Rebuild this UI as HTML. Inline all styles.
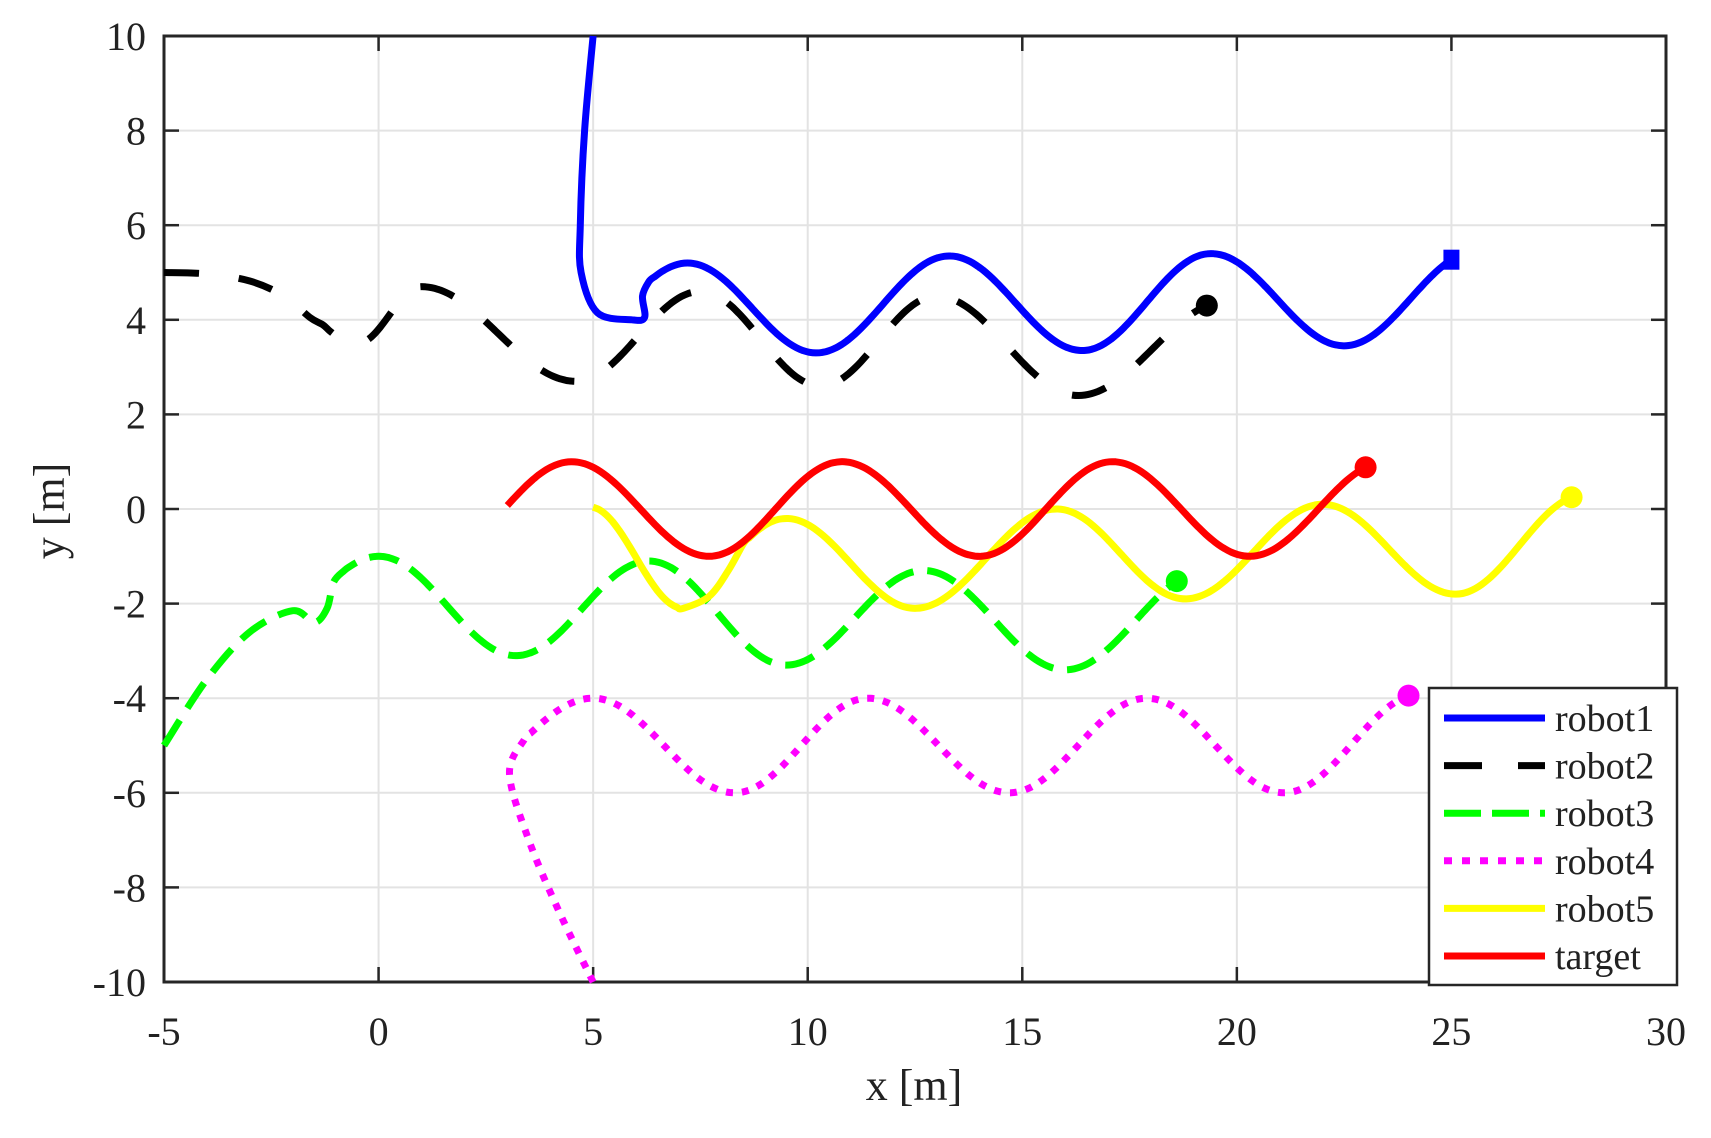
<!DOCTYPE html>
<html><head><meta charset="utf-8"><style>
html,body{margin:0;padding:0;background:#fff}
svg{display:block}
text{font-family:"Liberation Serif",serif;fill:#222}
</style></head><body>
<svg id="s" width="1711" height="1138" viewBox="0 0 1711 1138" xmlns="http://www.w3.org/2000/svg">
<rect x="164" y="36" width="1502" height="946" fill="#fff"/>
<g id="grid" stroke="#e3e3e3" stroke-width="2"></g>
<g id="ticks" stroke="#262626" stroke-width="2.5"></g>
<rect x="164" y="36" width="1502" height="946" fill="none" stroke="#262626" stroke-width="3"/>
<g id="labels" font-size="40"></g>
<g id="series" fill="none" stroke-linejoin="round"></g>
<g id="legend"></g>
<text x="914" y="1100" font-size="44" text-anchor="middle">x [m]</text>
<text transform="translate(64,511) rotate(-90)" font-size="44" text-anchor="middle">y [m]</text>
</svg>
<script>
const NS="http://www.w3.org/2000/svg";
const X=x=>164+(x+5)*1502/35, Y=y=>509-y*47.3;
function el(p,t,a,txt){const e=document.createElementNS(NS,t);for(const k in a)e.setAttribute(k,a[k]);if(txt!==undefined)e.textContent=txt;document.getElementById(p).appendChild(e);return e;}
for(let x=0;x<=25;x+=5){el('grid','line',{x1:X(x),x2:X(x),y1:36,y2:982});}
for(let y=-8;y<=8;y+=2){el('grid','line',{x1:164,x2:1666,y1:Y(y),y2:Y(y)});}
for(let x=-5;x<=30;x+=5){el('ticks','line',{x1:X(x),x2:X(x),y1:982,y2:967});el('ticks','line',{x1:X(x),x2:X(x),y1:36,y2:51});
 el('labels','text',{x:X(x),y:1045,'text-anchor':'middle'},String(x));}
for(let y=-10;y<=10;y+=2){el('ticks','line',{x1:164,x2:179,y1:Y(y),y2:Y(y)});el('ticks','line',{x1:1666,x2:1651,y1:Y(y),y2:Y(y)});
 el('labels','text',{x:146,y:Y(y)+14,'text-anchor':'end'},String(y));}
function cr(pts){const P=pts.map(p=>[X(p[0]),Y(p[1])]);let d='M'+P[0][0].toFixed(1)+','+P[0][1].toFixed(1);
 for(let i=0;i<P.length-1;i++){const p0=P[Math.max(0,i-1)],p1=P[i],p2=P[i+1],p3=P[Math.min(P.length-1,i+2)];
  const c1=[p1[0]+(p2[0]-p0[0])/6,p1[1]+(p2[1]-p0[1])/6],c2=[p2[0]-(p3[0]-p1[0])/6,p2[1]-(p3[1]-p1[1])/6];
  d+=' C'+c1.map(v=>v.toFixed(1))+' '+c2.map(v=>v.toFixed(1))+' '+p2.map(v=>v.toFixed(1));}return d;}
function wf(ext,x){for(let i=0;i<ext.length-1;i++){const a=ext[i],b=ext[i+1];if(x>=a[0]&&x<=b[0]){const t=(x-a[0])/(b[0]-a[0]);return a[1]+(b[1]-a[1])*(1-Math.cos(Math.PI*t))/2;}}return x<ext[0][0]?ext[0][1]:ext[ext.length-1][1];}
function wave(ext,x0,x1){const pts=[];const n=Math.ceil((x1-x0)/0.15);for(let k=0;k<=n;k++){const x=x0+(x1-x0)*k/n;pts.push([x,wf(ext,x)]);}return pts;}
const S=[
 {c:'#0000ff',d:'',pts:[[5,10],[4.8,8],[4.7,6],[4.72,5],[5.1,4.15],[5.9,4],[6.2,4.05],[6.15,4.5]].concat(wave([[4.2,3.3],[7.2,5.2],[10.2,3.3],[13.3,5.35],[16.4,3.35],[19.4,5.4],[22.5,3.45],[25.6,5.45]],6.3,25)),end:'sq'},
 {c:'#000',d:'35 40',pts:[[-5,5],[-4,4.97],[-3,4.82],[-2.2,4.5],[-1.6,4.05]].concat(wave([[-2.6,4.75],[-0.5,3.5],[1,4.7],[4.6,2.7],[7.5,4.6],[10.3,2.6],[13,4.5],[16.3,2.4],[19.8,4.4]],-1.3,19.3)),end:'c'},
 {c:'#00ff00',d:'30 14',pts:[[-5,-5],[-4,-3.6],[-3,-2.6],[-2,-2.15],[-1.5,-2.4],[-1.2,-2.1],[-1.05,-1.55]].concat(wave([[-2.6,-2.4],[0,-1],[3.2,-3.1],[6.3,-1.1],[9.5,-3.3],[12.7,-1.3],[16,-3.4],[19.3,-1.3]],-0.8,18.6)),end:'c'},
 {c:'#ff00ff',d:'7 9',pts:[[5,-10],[4.2,-8.5],[3.5,-7],[3.05,-5.6]].concat(wave([[1.5,-6],[5,-4],[8.3,-6],[11.4,-4],[14.7,-6],[17.9,-4],[21.1,-6],[24.3,-3.9]],3.4,24)),end:'c'},
 {c:'#ffff00',d:'',pts:wave([[4.9,0.05],[7.1,-2.1]],5,7.1).concat([[7.7,-1.85],[8.15,-1.3]]).concat(wave([[6.7,-2.1],[9.5,-0.2],[12.5,-2.1],[15.8,0],[18.8,-1.9],[22,0.1],[25.1,-1.8],[28.1,0.3]],8.5,27.8)),end:'c'},
 {c:'#ff0000',d:'',pts:wave([[1.35,-1],[4.5,1],[7.7,-1],[10.8,1],[14,-1],[17.1,1],[20.3,-1],[23.5,1]],3,23),end:'c'},
];
S.forEach(s=>{const a={d:cr(s.pts),stroke:s.c,'stroke-width':7};if(s.d)a['stroke-dasharray']=s.d;el('series','path',a);
 const e=s.pts[s.pts.length-1];
 if(s.end=='c')el('series','circle',{cx:X(e[0]),cy:Y(e[1]),r:11,fill:s.c,stroke:'none'});
 else el('series','rect',{x:X(e[0])-8,y:Y(e[1])-10,width:16,height:20,fill:s.c,stroke:'none'});});
el('legend','rect',{x:1429,y:688,width:248,height:297,fill:'#fff',stroke:'#262626','stroke-width':2.5});
const names=['robot1','robot2','robot3','robot4','robot5','target'];
names.forEach((n,i)=>{const y=718+i*47.6;const a={x1:1444,x2:1545,y1:y,y2:y,stroke:S[i].c,'stroke-width':7};
 if(i==1)a['stroke-dasharray']='38 36';if(i==2)a['stroke-dasharray']='37 11';if(i==3)a['stroke-dasharray']='8 10';
 el('legend','line',a);el('legend','text',{x:1555,y:y+13,'font-size':38},n);});
</script>
</body></html>
